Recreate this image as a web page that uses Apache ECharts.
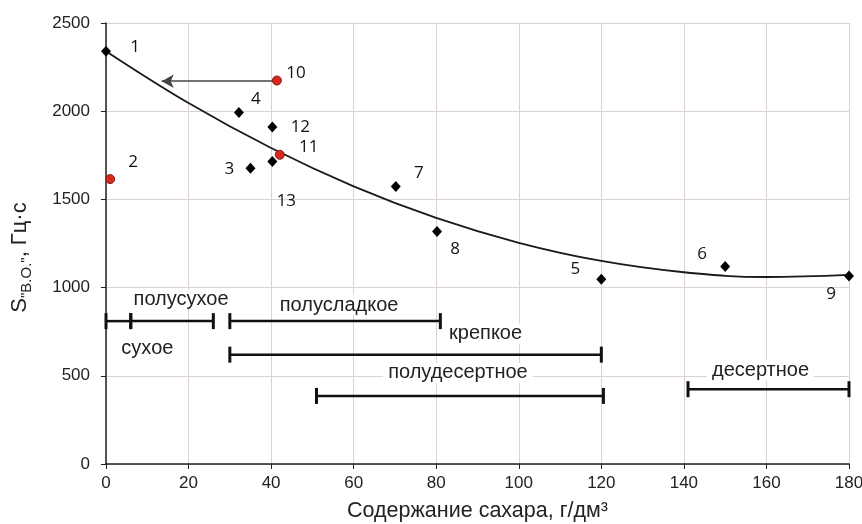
<!DOCTYPE html>
<html><head><meta charset="utf-8">
<script src="https://cdn.jsdelivr.net/npm/echarts@6/dist/echarts.min.js"></script>
<style>html,body{margin:0;padding:0;background:#fff}#c{width:862px;height:524px}</style>
</head><body><div id="c"></div><script>
// ---- data ----
const blackNames = ['1','3','4','5','6','7','8','9','12','13'];
const blackX = [0, 35, 32.2, 120, 150, 70.2, 80.2, 180, 40.3, 40.3];
const blackY = [2340, 1677, 1992, 1048, 1119, 1573, 1318, 1066, 1910, 1715];

const redNames = ['2','10','11'];
const redX = [1, 41.4, 42.1];
const redY = [1615, 2174, 1753];

// trend curve at every 20 g/dm3
const trendX = [0, 20, 40, 60, 80, 100, 120, 140, 160, 180];
const trendY = [2340, 2046, 1791, 1574, 1395, 1254, 1151, 1087, 1060, 1072];

// wine category ranges (sugar, g/dm3) and the level they are drawn at
const rangeNames = ['сухое','полусухое','полусладкое','крепкое','полудесертное','десертное'];
const rangeStart = [0, 6, 30, 30, 51, 141];
const rangeEnd = [6, 26, 81, 120, 120.5, 180];
const rangeLevel = [810, 810, 810, 620, 386, 424];

// arrow from point 10 to the curve
const arrowFrom = [41.4, 2170];
const arrowTo = [13.5, 2170];

const xTicks = [0, 20, 40, 60, 80, 100, 120, 140, 160, 180];
const yTicks = [0, 500, 1000, 1500, 2000, 2500];

// ---- styling (positions of labels) ----
const blackLabelOffset = {'1':[29,-4],'3':[-21,1],'4':[17,-13],'5':[-26,-10],'6':[-23,-12],'7':[23,-13],'8':[18,18],'9':[-18,18],'12':[28,0],'13':[14,40]};
const redLabelOffset = {'2':[23,-17],'10':[19,-7],'11':[29,-8]};
const rangeLabelOffset = [[29,27],[9,-22],[4,-16],[70,-21],[-2,-23],[-8,-19]];

const pointLabel = {show:true, position:'inside', color:'#111', fontFamily:'Open Sans', fontSize:17};

const chart = echarts.init(document.getElementById('c'), null, {renderer:'canvas'});
chart.setOption({
  animation:false,
  backgroundColor:'#fff',
  grid:{left:106, right:13, top:23, bottom:60, containLabel:false, outerBoundsMode:'none'},
  xAxis:{
    type:'value', min:xTicks[0], max:xTicks[xTicks.length-1], interval:20,
    name:'Содержание сахара, г/дм³', nameLocation:'middle', nameGap:36,
    nameTextStyle:{fontFamily:'Liberation Sans', fontSize:21.5, color:'#222'},
    axisLine:{lineStyle:{color:'#222', width:1.5}},
    axisTick:{show:true, length:5, lineStyle:{color:'#222'}},
    axisLabel:{fontFamily:'Liberation Sans', fontSize:17, color:'#222', margin:11, formatter:v=>String(v)},
    splitLine:{show:true, lineStyle:{color:'#dcd2ce', width:1}}
  },
  yAxis:{
    type:'value', min:yTicks[0], max:yTicks[yTicks.length-1], interval:500,
    name:'{s|S}{sub|"В.О."}{n|, Гц·с}', nameLocation:'middle', nameGap:72,
    nameTextStyle:{fontFamily:'Liberation Sans', color:'#222', padding:[0,28,0,0],
      rich:{s:{fontSize:22, fontFamily:'Liberation Sans', color:'#222', lineHeight:28},
            sub:{fontSize:15, fontFamily:'Liberation Sans', color:'#222', verticalAlign:'bottom', lineHeight:28},
            n:{fontSize:22, fontFamily:'Liberation Sans', color:'#222', lineHeight:28}}},
    axisLine:{show:true, lineStyle:{color:'#222', width:1.5}},
    axisTick:{show:true, length:5, lineStyle:{color:'#222'}},
    axisLabel:{fontFamily:'Liberation Sans', fontSize:17, color:'#222', margin:16, formatter:v=>String(v)},
    splitLine:{show:true, lineStyle:{color:'#dcd2ce', width:1}}
  },
  series:[
    {
      type:'custom', z:3,
      renderItem:function(params, api){
        const i = params.dataIndex;
        const s = api.coord([api.value(0), api.value(2)]);
        const e = api.coord([api.value(1), api.value(2)]);
        const h = 8;
        const off = rangeLabelOffset[i];
        const cx = (s[0]+e[0])/2;
        return {type:'group', children:[
          {type:'text', x:cx+off[0], y:s[1]+off[1], z2:1,
            style:{text:rangeNames[i], fill:'#222', font:'20px "Liberation Sans"', align:'center', verticalAlign:'middle', backgroundColor:'#fff', padding:[0,5]}},
          {type:'line', z2:2, shape:{x1:s[0],y1:s[1],x2:e[0],y2:e[1]}, style:{stroke:'#111', lineWidth:2.5}},
          {type:'line', z2:2, shape:{x1:s[0],y1:s[1]-h,x2:s[0],y2:s[1]+h}, style:{stroke:'#111', lineWidth:3}},
          {type:'line', z2:2, shape:{x1:e[0],y1:e[1]-h,x2:e[0],y2:e[1]+h}, style:{stroke:'#111', lineWidth:3}}
        ]};
      },
      data: rangeNames.map((n,i)=>[rangeStart[i], rangeEnd[i], rangeLevel[i]])
    },
    {
      type:'line', smooth:0.4, showSymbol:false, z:4,
      lineStyle:{color:'#1a1a1a', width:1.8},
      data: trendX.map((x,i)=>[x, trendY[i]]),
      markLine:{
        silent:true, symbol:['none','arrow'], symbolSize:[10,12], animation:false,
        lineStyle:{color:'#444', width:1.5, type:'solid'},
        label:{show:false},
        data:[[{coord:arrowFrom},{coord:arrowTo}]]
      }
    },
    {
      type:'scatter', symbol:'diamond', symbolSize:[10,11], z:5,
      itemStyle:{color:'#000', opacity:1},
      data: blackNames.map((n,i)=>({value:[blackX[i], blackY[i]], name:n,
        label:Object.assign({}, pointLabel, {formatter:n, offset:blackLabelOffset[n]})}))
    },
    {
      type:'scatter', symbol:'circle', symbolSize:9, z:6,
      itemStyle:{color:'#d6281f', borderColor:'#8a1a14', borderWidth:1, opacity:1},
      data: redNames.map((n,i)=>({value:[redX[i], redY[i]], name:n,
        label:Object.assign({}, pointLabel, {formatter:n, offset:redLabelOffset[n]})}))
    }
  ]
});
</script></body></html>
